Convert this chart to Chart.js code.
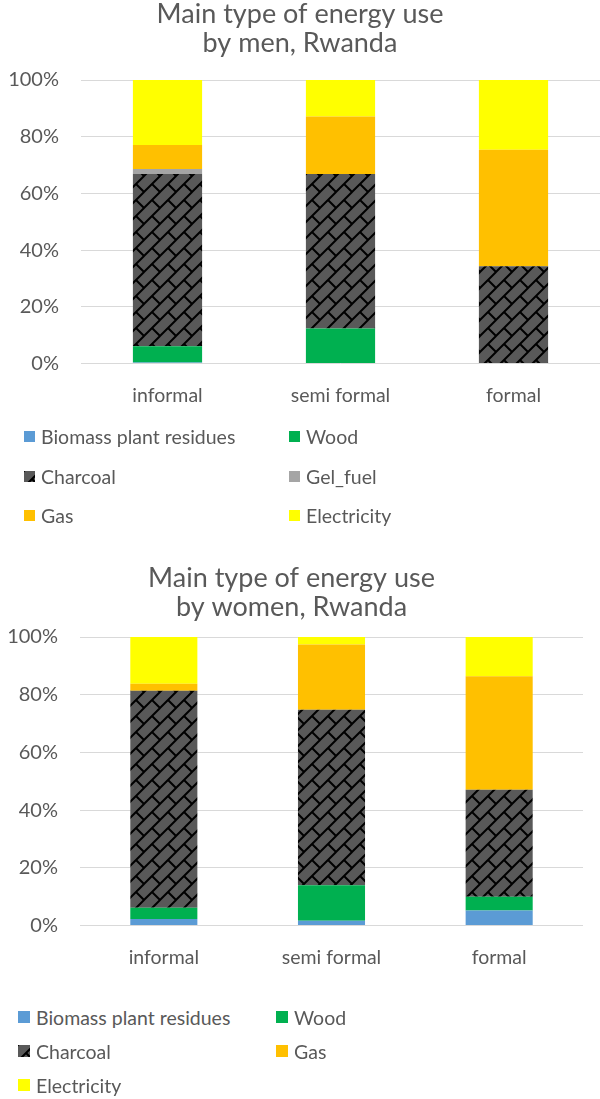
<!DOCTYPE html>
<html>
<head>
    <title>Main type of energy use, Rwanda</title>
    <script src="https://cdn.jsdelivr.net/npm/chart.js@4/dist/chart.umd.min.js"></script>
    <style>
        body {
            margin: 0;
            background: #fff;
            font-family: Lato, sans-serif;
            color: #595959;
        }
        .page {
            position: relative;
            width: 600px;
            height: 1099px;
        }
        canvas.chart {
            position: absolute;
            left: 0;
        }
        .legend {
            position: absolute;
            left: 0;
            width: 600px;
            display: grid;
            font-size: 19.5px;
        }
        .legend .item {
            display: flex;
            align-items: center;
            white-space: nowrap;
        }
        .legend canvas {
            margin-right: 6px;
        }
    </style>
</head>
<body>
<div class="page">
    <canvas id="menChart" class="chart" width="600" height="427" style="top:0"></canvas>
    <div id="menLegend" class="legend" style="top:417px; grid-template-columns:265px 300px; grid-auto-rows:39.5px; padding-left:24px;"></div>

    <canvas id="womenChart" class="chart" width="600" height="425" style="top:564px"></canvas>
    <div id="womenLegend" class="legend" style="top:1000px; grid-template-columns:258px 300px; grid-auto-rows:34px; padding-left:18px;"></div>
</div>

<script>
    // categories and values (percent of respondents)
    const categories = ['informal', 'semi formal', 'formal'];

    const menBiomass = [0.4, 0, 0];
    const menWood = [5.7, 12.4, 0];
    const menCharcoal = [60.8, 54.5, 34.3];
    const menGelFuel = [1.7, 0, 0];
    const menGas = [8.5, 20.2, 41.1];
    const menElectricity = [22.9, 12.9, 24.6];

    const womenBiomass = [2.3, 1.7, 5.2];
    const womenWood = [3.9, 12.3, 4.8];
    const womenCharcoal = [75.2, 60.8, 37.1];
    const womenGas = [2.4, 22.6, 39.3];
    const womenElectricity = [16.2, 2.6, 13.6];

    const textColor = '#595959';
    const gridColor = '#d9d9d9';

    // Excel-like "diagonal brick" fill for charcoal
    function brickPattern(ctx) {
        const n = 16;
        const c = document.createElement('canvas');
        c.width = n;
        c.height = n;
        const g = c.getContext('2d');
        g.fillStyle = '#595959';
        g.fillRect(0, 0, n, n);
        g.strokeStyle = '#000';
        g.lineWidth = 2;
        g.beginPath();
        g.moveTo(-1, n + 1); g.lineTo(n + 1, -1);
        g.moveTo(-1, 1); g.lineTo(1, -1);
        g.moveTo(n - 1, n + 1); g.lineTo(n + 1, n - 1);
        g.moveTo(n / 2, n / 2); g.lineTo(n, n);
        g.stroke();
        return ctx.createPattern(c, 'repeat');
    }

    function makeChart(id, titleLines, series, titlePadBottom, rightPad, axisWidth) {
        const canvas = document.getElementById(id);
        const ctx = canvas.getContext('2d');
        const datasets = series.map(s => ({
            label: s.label,
            data: s.data,
            backgroundColor: s.pattern ? brickPattern(ctx) : s.color,
            swatch: s.pattern ? 'pattern' : s.color,
            borderWidth: 0,
            categoryPercentage: 1,
            barPercentage: 0.4
        }));
        return new Chart(ctx, {
            type: 'bar',
            data: { labels: categories, datasets: datasets },
            options: {
                responsive: false,
                animation: false,
                layout: { padding: { left: 0, right: rightPad, top: 0, bottom: 0 } },
                plugins: {
                    legend: { display: false },
                    tooltip: { enabled: false },
                    title: {
                        display: true,
                        text: titleLines,
                        color: textColor,
                        font: { family: 'Lato', size: 27, weight: 'normal', lineHeight: 1.067 },
                        padding: { top: 0, bottom: titlePadBottom }
                    }
                },
                scales: {
                    x: {
                        stacked: true,
                        grid: { display: false, drawTicks: false },
                        border: { display: false },
                        ticks: {
                            color: textColor,
                            padding: 20,
                            maxRotation: 0,
                            font: { family: 'Lato', size: 19.5 }
                        }
                    },
                    y: {
                        stacked: true,
                        min: 0,
                        max: 100,
                        border: { display: false },
                        grid: { color: gridColor, lineWidth: 1, drawTicks: false },
                        afterFit: scale => { scale.width = axisWidth; },
                        ticks: {
                            stepSize: 20,
                            color: textColor,
                            padding: 22,
                            font: { family: 'Lato', size: 20 },
                            callback: v => v + '%'
                        }
                    }
                }
            }
        });
    }

    function buildLegend(chart, elId, size) {
        const box = document.getElementById(elId);
        chart.data.datasets.forEach(ds => {
            const item = document.createElement('div');
            item.className = 'item';
            const sw = document.createElement('canvas');
            sw.width = size;
            sw.height = size;
            const g = sw.getContext('2d');
            g.fillStyle = ds.swatch === 'pattern' ? brickPattern(g) : ds.swatch;
            g.fillRect(0, 0, size, size);
            item.appendChild(sw);
            const span = document.createElement('span');
            span.textContent = ds.label;
            item.appendChild(span);
            box.appendChild(item);
        });
    }

    const menChart = makeChart('menChart', ['Main type of energy use', 'by men, Rwanda'], [
        { label: 'Biomass plant residues', data: menBiomass, color: '#5b9bd5' },
        { label: 'Wood', data: menWood, color: '#00b050' },
        { label: 'Charcoal', data: menCharcoal, pattern: true },
        { label: 'Gel_fuel', data: menGelFuel, color: '#a5a5a5' },
        { label: 'Gas', data: menGas, color: '#ffc000' },
        { label: 'Electricity', data: menElectricity, color: '#ffff00' }
    ], 22.4, 0, 81);

    const womenChart = makeChart('womenChart', ['Main type of energy use', 'by women, Rwanda'], [
        { label: 'Biomass plant residues', data: womenBiomass, color: '#5b9bd5' },
        { label: 'Wood', data: womenWood, color: '#00b050' },
        { label: 'Charcoal', data: womenCharcoal, pattern: true },
        { label: 'Gas', data: womenGas, color: '#ffc000' },
        { label: 'Electricity', data: womenElectricity, color: '#ffff00' }
    ], 15.4, 17, 80);

    buildLegend(menChart, 'menLegend', 11);
    buildLegend(womenChart, 'womenLegend', 12);
</script>
</body>
</html>
